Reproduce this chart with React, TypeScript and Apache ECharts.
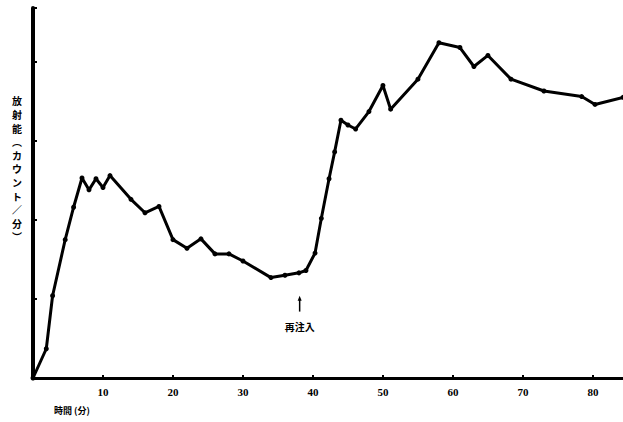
import React, { useEffect, useRef } from "react";
import * as echarts from "echarts";

// time (minutes)
const timeMin = [0, 1.9, 2.8, 4.6, 5.8, 7, 8, 9, 10, 11, 14, 16, 18, 20, 22, 24, 26, 28, 30, 34, 36, 38, 39, 40.3, 41.2, 42.3, 43.1, 44, 45, 46.1, 48, 50, 51.1, 55, 58, 61, 63, 65, 68.3, 73, 78.4, 80.3, 84.3];
// radioactivity (relative units, one per y tick)
const counts = [0, 0.37, 1.04, 1.75, 2.16, 2.53, 2.38, 2.52, 2.41, 2.56, 2.26, 2.09, 2.17, 1.75, 1.64, 1.76, 1.57, 1.57, 1.48, 1.27, 1.3, 1.33, 1.36, 1.58, 2.02, 2.52, 2.86, 3.26, 3.2, 3.15, 3.37, 3.7, 3.4, 3.78, 4.24, 4.18, 3.94, 4.08, 3.78, 3.63, 3.56, 3.46, 3.55];
const xTickLabels = ["10", "20", "30", "40", "50", "60", "70", "80"];
const reinjectTime = 38.1;
const reinjectLabel = "再注入";
const yAxisTitle = "放射能(カウント/分)";
const xAxisTitle = "時間 (分)";

export default function App() {
  const ref = useRef<HTMLDivElement>(null);
  useEffect(() => {
    if (!ref.current) return;
    const chart = echarts.init(ref.current, null, { renderer: "svg" });
    const serif = "'Liberation Serif', 'DejaVu Serif', serif";
    const cjk = "'Noto Sans CJK JP', 'Noto Sans CJK SC', sans-serif";
    const vertical = ["放", "射", "能", "︵", "カ", "ウ", "ン", "ト", "／", "分", "︶"].join("\n");
    chart.setOption({
      animation: false,
      backgroundColor: "#ffffff",
      grid: { left: 33, right: 0, top: 8, bottom: 44, containLabel: false },
      xAxis: {
        type: "value",
        min: 0,
        max: 84.3,
        interval: 10,
        splitLine: { show: false },
        axisLine: { lineStyle: { color: "#000", width: 3 } },
        axisTick: { show: true, inside: true, length: 3, lineStyle: { color: "#000", width: 2 } },
        axisLabel: {
          color: "#000",
          fontFamily: serif,
          fontWeight: "bold",
          fontSize: 11,
          margin: 8,
          formatter: (v: number) => (xTickLabels.includes(String(v)) ? String(v) : ""),
          showMaxLabel: false,
        },
      },
      yAxis: {
        type: "value",
        min: 0,
        max: 4.68,
        interval: 1,
        splitLine: { show: false },
        axisLine: { show: true, lineStyle: { color: "#000", width: 4 } },
        axisTick: { show: true, inside: true, length: 4, lineStyle: { color: "#000", width: 2 } },
        axisLabel: { show: false },
      },
      series: [
        {
          type: "line",
          data: timeMin.map((t, i) => [t, counts[i]]),
          symbol: "circle",
          symbolSize: 5,
          itemStyle: { color: "#000" },
          lineStyle: { color: "#000", width: 3 },
          clip: true,
        },
      ],
    });
    const top = chart.convertToPixel({ gridIndex: 0 }, [reinjectTime, 1.04]) as number[];
    const bot = chart.convertToPixel({ gridIndex: 0 }, [reinjectTime, 0.84]) as number[];
    const lab = chart.convertToPixel({ gridIndex: 0 }, [reinjectTime, 0.65]) as number[];
    chart.setOption({
      graphic: [
        {
          type: "line",
          shape: { x1: top[0], y1: top[1] + 3, x2: bot[0], y2: bot[1] },
          style: { stroke: "#000", lineWidth: 1.5 },
        },
        {
          type: "polygon",
          shape: { points: [[top[0], top[1]], [top[0] - 2, top[1] + 5], [top[0] + 2, top[1] + 5]] },
          style: { fill: "#000" },
        },
        {
          type: "text",
          x: lab[0],
          y: lab[1],
          style: {
            text: reinjectLabel,
            fill: "#000",
            font: `bold 10px ${cjk}`,
            textAlign: "center",
            textVerticalAlign: "middle",
          },
        },
        {
          type: "text",
          x: 17,
          y: 94,
          style: {
            text: vertical,
            fill: "#000",
            font: `bold 10px ${cjk}`,
            lineHeight: 13.6,
            textAlign: "center",
            textVerticalAlign: "top",
          },
        },
        {
          type: "text",
          x: 54,
          y: 410,
          style: {
            text: xAxisTitle,
            fill: "#000",
            font: `bold 9px ${cjk}`,
            textAlign: "left",
            textVerticalAlign: "middle",
          },
        },
      ],
    });
    return () => chart.dispose();
  }, []);
  return (
    <div
      ref={ref}
      style={{ position: "fixed", left: 0, top: 0, width: 623, height: 422, background: "#fff" }}
    />
  );
}
